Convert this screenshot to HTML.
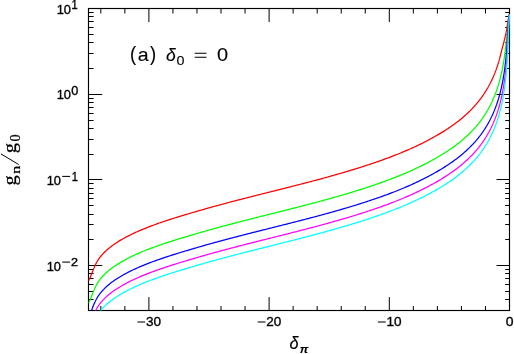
<!DOCTYPE html>
<html><head><meta charset="utf-8"><style>html,body{margin:0;padding:0;background:#fff}svg{display:block}</style></head><body>
<svg width="514" height="354" viewBox="0 0 514 354" style="will-change:transform">
<rect width="514" height="354" fill="#fff"/>
<defs><clipPath id="c"><rect x="88.5" y="8.5" width="421.6" height="302.0"/></clipPath></defs>
<path d="M100.82,310.5v-4.5M100.82,8.5v5.0M124.86,310.5v-4.5M124.86,8.5v5.0M148.9,310.5v-13.4M148.9,8.5v13.6M172.94,310.5v-4.5M172.94,8.5v5.0M196.98,310.5v-4.5M196.98,8.5v5.0M221.02,310.5v-4.5M221.02,8.5v5.0M245.06,310.5v-4.5M245.06,8.5v5.0M269.1,310.5v-13.4M269.1,8.5v13.6M293.14,310.5v-4.5M293.14,8.5v5.0M317.18,310.5v-4.5M317.18,8.5v5.0M341.22,310.5v-4.5M341.22,8.5v5.0M365.26,310.5v-4.5M365.26,8.5v5.0M389.3,310.5v-13.4M389.3,8.5v13.6M413.34,310.5v-4.5M413.34,8.5v5.0M437.38,310.5v-4.5M437.38,8.5v5.0M461.42,310.5v-4.5M461.42,8.5v5.0M485.46,310.5v-4.5M485.46,8.5v5.0M88.5,299.5h5.1M509.5,299.5h-4.3M88.5,291.5h5.1M509.5,291.5h-4.3M88.5,284.5h5.1M509.5,284.5h-4.3M88.5,278.5h5.1M509.5,278.5h-4.3M88.5,273.5h5.1M509.5,273.5h-4.3M88.5,269.5h5.1M509.5,269.5h-4.3M88.5,265.5h13.7M509.5,265.5h-13.0M88.5,239.5h5.1M509.5,239.5h-4.3M88.5,224.5h5.1M509.5,224.5h-4.3M88.5,214.5h5.1M509.5,214.5h-4.3M88.5,205.5h5.1M509.5,205.5h-4.3M88.5,198.5h5.1M509.5,198.5h-4.3M88.5,193.5h5.1M509.5,193.5h-4.3M88.5,188.5h5.1M509.5,188.5h-4.3M88.5,183.5h5.1M509.5,183.5h-4.3M88.5,179.5h13.7M509.5,179.5h-13.0M88.5,154.5h5.1M509.5,154.5h-4.3M88.5,139.5h5.1M509.5,139.5h-4.3M88.5,128.5h5.1M509.5,128.5h-4.3M88.5,120.5h5.1M509.5,120.5h-4.3M88.5,113.5h5.1M509.5,113.5h-4.3M88.5,107.5h5.1M509.5,107.5h-4.3M88.5,102.5h5.1M509.5,102.5h-4.3M88.5,98.5h5.1M509.5,98.5h-4.3M88.5,94.5h13.7M509.5,94.5h-13.0M88.5,68.5h5.1M509.5,68.5h-4.3M88.5,53.5h5.1M509.5,53.5h-4.3M88.5,42.5h5.1M509.5,42.5h-4.3M88.5,34.5h5.1M509.5,34.5h-4.3M88.5,27.5h5.1M509.5,27.5h-4.3M88.5,21.5h5.1M509.5,21.5h-4.3M88.5,16.5h5.1M509.5,16.5h-4.3M88.5,12.5h5.1M509.5,12.5h-4.3" stroke="#000" stroke-width="1" fill="none"/>
<rect x="88.5" y="8.5" width="421.0" height="302.0" fill="none" stroke="#000" stroke-width="1.15"/>
<g clip-path="url(#c)" fill="none" stroke-width="1.25" stroke-linejoin="round">
<path d="M88.00,280.46 L88.06,280.45 L88.12,280.44 L88.18,280.44 L88.24,280.43 L88.30,280.43 L88.36,280.42 L88.42,280.42 L88.48,280.41 L88.54,280.41 L88.60,280.41 L88.66,280.40 L88.72,280.32 L88.78,280.23 L88.84,280.14 L88.90,280.04 L88.96,279.94 L89.03,279.84 L89.09,279.74 L89.15,279.63 L89.21,279.52 L89.27,279.41 L89.33,279.29 L89.39,279.18 L89.45,279.06 L89.51,278.94 L89.57,278.81 L89.63,278.69 L89.69,278.56 L89.75,278.43 L89.81,278.30 L89.87,278.17 L89.93,278.04 L89.99,277.90 L90.05,277.76 L90.11,277.63 L90.17,277.49 L90.23,277.35 L90.29,277.20 L90.35,277.06 L90.41,276.92 L90.47,276.77 L90.53,276.62 L90.59,276.48 L90.65,276.33 L90.71,276.18 L90.77,276.03 L90.83,275.88 L90.89,275.73 L90.95,275.58 L91.02,275.42 L91.08,275.27 L91.14,275.12 L91.20,274.96 L91.26,274.81 L91.32,274.66 L91.38,274.50 L91.44,274.35 L91.50,274.19 L91.56,274.03 L91.62,273.88 L91.68,273.72 L91.74,273.57 L91.80,273.41 L91.86,273.25 L91.92,273.10 L91.98,272.94 L92.04,272.79 L92.10,272.63 L92.16,272.47 L92.22,272.32 L92.28,272.16 L92.34,272.01 L92.40,271.85 L92.46,271.70 L92.52,271.54 L92.58,271.39 L92.64,271.23 L92.70,271.08 L92.76,270.93 L92.82,270.77 L92.88,270.62 L92.94,270.47 L93.01,270.32 L93.07,270.17 L93.13,270.02 L93.19,269.86 L93.25,269.71 L93.31,269.57 L93.37,269.42 L93.43,269.27 L93.49,269.12 L93.55,268.97 L93.61,268.83 L93.67,268.68 L93.73,268.53 L93.79,268.39 L93.85,268.24 L93.91,268.10 L93.97,267.96 L94.03,267.82 L94.09,267.67 L94.15,267.53 L94.21,267.39 L94.27,267.25 L94.33,267.11 L94.39,266.97 L94.45,266.84 L94.51,266.70 L94.57,266.56 L94.63,266.43 L94.69,266.29 L94.75,266.16 L94.81,266.02 L94.87,265.89 L94.93,265.76 L94.99,265.63 L95.06,265.49 L95.12,265.36 L95.18,265.24 L95.24,265.11 L95.30,264.98 L95.36,264.85 L95.42,264.73 L95.48,264.60 L95.54,264.48 L95.60,264.36 L95.66,264.23 L95.72,264.11 L95.78,263.99 L95.84,263.87 L95.90,263.75 L95.96,263.63 L96.02,263.52 L96.08,263.40 L96.14,263.28 L96.20,263.17 L96.26,263.06 L96.32,262.94 L96.38,262.83 L96.44,262.72 L96.50,262.61 L96.56,262.50 L96.62,262.39 L96.68,262.28 L96.74,262.17 L96.80,262.07 L96.86,261.96 L96.92,261.86 L96.98,261.75 L97.05,261.65 L97.11,261.54 L97.17,261.44 L97.23,261.34 L97.29,261.24 L97.35,261.14 L97.41,261.04 L97.47,260.94 L97.53,260.84 L97.59,260.74 L97.65,260.65 L97.71,260.55 L97.77,260.45 L97.83,260.36 L97.89,260.26 L97.95,260.17 L98.01,260.08 L98.07,259.98 L98.13,259.89 L98.19,259.80 L98.25,259.71 L98.31,259.62 L98.37,259.52 L98.43,259.43 L98.49,259.35 L98.55,259.26 L98.61,259.17 L98.67,259.08 L98.73,258.99 L98.79,258.91 L98.85,258.82 L98.91,258.73 L98.97,258.65 L99.04,258.56 L99.10,258.48 L99.16,258.40 L99.22,258.31 L99.28,258.23 L99.34,258.15 L99.40,258.06 L99.46,257.98 L99.52,257.90 L99.58,257.82 L99.64,257.74 L99.70,257.66 L99.76,257.58 L99.82,257.50 L99.88,257.42 L99.94,257.34 L100.00,257.26 L101.24,255.74 L102.47,254.33 L103.71,253.02 L104.95,251.77 L106.19,250.59 L107.42,249.47 L108.66,248.41 L109.90,247.41 L111.14,246.45 L112.37,245.53 L113.61,244.65 L114.85,243.80 L116.09,242.98 L117.32,242.18 L118.56,241.40 L119.80,240.65 L121.04,239.91 L122.27,239.19 L123.51,238.49 L124.75,237.81 L125.99,237.14 L127.22,236.48 L128.46,235.84 L129.70,235.22 L130.94,234.60 L132.17,234.00 L133.41,233.41 L134.65,232.83 L135.89,232.26 L137.12,231.71 L138.36,231.16 L139.60,230.63 L140.84,230.10 L142.07,229.59 L143.31,229.08 L144.55,228.57 L145.79,228.08 L147.02,227.59 L148.26,227.10 L149.50,226.62 L150.74,226.15 L151.97,225.68 L153.21,225.22 L154.45,224.77 L155.69,224.32 L156.92,223.88 L158.16,223.44 L159.40,223.01 L160.64,222.58 L161.87,222.16 L163.11,221.74 L164.35,221.32 L165.59,220.91 L166.82,220.50 L168.06,220.10 L169.30,219.70 L170.54,219.30 L171.77,218.91 L173.01,218.52 L174.25,218.13 L175.48,217.74 L176.72,217.36 L177.96,216.97 L179.20,216.59 L180.43,216.21 L181.67,215.84 L182.91,215.46 L184.15,215.09 L185.38,214.72 L186.62,214.35 L187.86,213.98 L189.10,213.61 L190.33,213.25 L191.57,212.88 L192.81,212.51 L194.05,212.15 L195.28,211.79 L196.52,211.43 L197.76,211.06 L199.00,210.70 L200.23,210.35 L201.47,209.99 L202.71,209.63 L203.95,209.28 L205.18,208.92 L206.42,208.57 L207.66,208.22 L208.90,207.87 L210.13,207.53 L211.37,207.18 L212.61,206.84 L213.85,206.50 L215.08,206.16 L216.32,205.83 L217.56,205.49 L218.80,205.15 L220.03,204.82 L221.27,204.48 L222.51,204.15 L223.75,203.82 L224.98,203.49 L226.22,203.16 L227.46,202.83 L228.70,202.50 L229.93,202.17 L231.17,201.85 L232.41,201.52 L233.65,201.19 L234.88,200.87 L236.12,200.55 L237.36,200.23 L238.60,199.91 L239.83,199.59 L241.07,199.27 L242.31,198.95 L243.55,198.63 L244.78,198.32 L246.02,198.00 L247.26,197.68 L248.49,197.37 L249.73,197.06 L250.97,196.74 L252.21,196.43 L253.44,196.11 L254.68,195.80 L255.92,195.49 L257.16,195.18 L258.39,194.87 L259.63,194.55 L260.87,194.24 L262.11,193.93 L263.34,193.62 L264.58,193.31 L265.82,193.00 L267.06,192.69 L268.29,192.38 L269.53,192.07 L270.77,191.76 L272.01,191.45 L273.24,191.14 L274.48,190.83 L275.72,190.52 L276.96,190.21 L278.19,189.90 L279.43,189.59 L280.67,189.27 L281.91,188.96 L283.14,188.65 L284.38,188.34 L285.62,188.03 L286.86,187.72 L288.09,187.40 L289.33,187.09 L290.57,186.78 L291.81,186.46 L293.04,186.15 L294.28,185.83 L295.52,185.51 L296.76,185.20 L297.99,184.88 L299.23,184.56 L300.47,184.24 L301.71,183.92 L302.94,183.60 L304.18,183.28 L305.42,182.96 L306.66,182.64 L307.89,182.32 L309.13,181.99 L310.37,181.67 L311.61,181.34 L312.84,181.01 L314.08,180.69 L315.32,180.36 L316.56,180.03 L317.79,179.69 L319.03,179.36 L320.27,179.03 L321.51,178.69 L322.74,178.36 L323.98,178.02 L325.22,177.68 L326.45,177.34 L327.69,177.00 L328.93,176.66 L330.17,176.31 L331.40,175.97 L332.64,175.62 L333.88,175.27 L335.12,174.92 L336.35,174.57 L337.59,174.21 L338.83,173.86 L340.07,173.50 L341.30,173.14 L342.54,172.78 L343.78,172.42 L345.02,172.05 L346.25,171.69 L347.49,171.32 L348.73,170.95 L349.97,170.58 L351.20,170.20 L352.44,169.83 L353.68,169.45 L354.92,169.07 L356.15,168.68 L357.39,168.30 L358.63,167.91 L359.87,167.52 L361.10,167.13 L362.34,166.73 L363.58,166.34 L364.82,165.94 L366.05,165.53 L367.29,165.13 L368.53,164.72 L369.77,164.31 L371.00,163.90 L372.24,163.48 L373.48,163.07 L374.72,162.64 L375.95,162.22 L377.19,161.79 L378.43,161.36 L379.67,160.93 L380.90,160.49 L382.14,160.05 L383.38,159.61 L384.62,159.16 L385.85,158.71 L387.09,158.26 L388.33,157.80 L389.57,157.33 L390.80,156.86 L392.04,156.39 L393.28,155.92 L394.52,155.44 L395.75,154.95 L396.99,154.46 L398.23,153.96 L399.46,153.46 L400.70,152.96 L401.94,152.44 L403.18,151.93 L404.41,151.41 L405.65,150.88 L406.89,150.35 L408.13,149.81 L409.36,149.26 L410.60,148.71 L411.84,148.15 L413.08,147.59 L414.31,147.02 L415.55,146.45 L416.79,145.86 L418.03,145.28 L419.26,144.68 L420.50,144.08 L421.74,143.47 L422.98,142.85 L424.21,142.23 L425.45,141.60 L426.69,140.96 L427.93,140.31 L429.16,139.66 L430.40,138.99 L431.64,138.32 L432.88,137.64 L434.11,136.96 L435.35,136.26 L436.59,135.55 L437.83,134.84 L439.06,134.11 L440.30,133.38 L441.54,132.63 L442.78,131.87 L444.01,131.10 L445.25,130.32 L446.49,129.52 L447.73,128.71 L448.96,127.89 L450.20,127.05 L451.44,126.19 L452.68,125.32 L453.91,124.43 L455.15,123.53 L456.39,122.60 L457.63,121.66 L458.86,120.69 L460.10,119.70 L461.34,118.69 L462.58,117.65 L463.81,116.59 L465.05,115.50 L466.29,114.38 L467.53,113.23 L468.76,112.06 L470.00,110.84 L470.11,110.74 L470.21,110.63 L470.32,110.53 L470.42,110.42 L470.53,110.32 L470.63,110.21 L470.74,110.11 L470.84,110.00 L470.95,109.89 L471.05,109.79 L471.16,109.68 L471.26,109.57 L471.37,109.46 L471.47,109.36 L471.58,109.25 L471.68,109.14 L471.79,109.03 L471.89,108.92 L472.00,108.81 L472.11,108.70 L472.21,108.59 L472.32,108.48 L472.42,108.37 L472.53,108.26 L472.63,108.15 L472.74,108.04 L472.84,107.92 L472.95,107.81 L473.05,107.70 L473.16,107.59 L473.26,107.47 L473.37,107.36 L473.47,107.25 L473.58,107.13 L473.68,107.02 L473.79,106.91 L473.89,106.79 L474.00,106.68 L474.11,106.56 L474.21,106.44 L474.32,106.33 L474.42,106.21 L474.53,106.10 L474.63,105.98 L474.74,105.86 L474.84,105.74 L474.95,105.63 L475.05,105.51 L475.16,105.39 L475.26,105.27 L475.37,105.15 L475.47,105.03 L475.58,104.91 L475.68,104.79 L475.79,104.67 L475.89,104.55 L476.00,104.43 L476.11,104.30 L476.21,104.18 L476.32,104.06 L476.42,103.93 L476.53,103.81 L476.63,103.69 L476.74,103.56 L476.84,103.44 L476.95,103.31 L477.05,103.18 L477.16,103.06 L477.26,102.93 L477.37,102.80 L477.47,102.68 L477.58,102.55 L477.68,102.42 L477.79,102.29 L477.89,102.16 L478.00,102.03 L478.10,101.90 L478.21,101.77 L478.32,101.64 L478.42,101.51 L478.53,101.38 L478.63,101.24 L478.74,101.11 L478.84,100.98 L478.95,100.84 L479.05,100.71 L479.16,100.58 L479.26,100.44 L479.37,100.30 L479.47,100.17 L479.58,100.03 L479.68,99.90 L479.79,99.76 L479.89,99.62 L480.00,99.48 L480.10,99.34 L480.21,99.20 L480.32,99.06 L480.42,98.92 L480.53,98.78 L480.63,98.64 L480.74,98.50 L480.84,98.36 L480.95,98.21 L481.05,98.07 L481.16,97.93 L481.26,97.78 L481.37,97.64 L481.47,97.49 L481.58,97.35 L481.68,97.20 L481.79,97.05 L481.89,96.91 L482.00,96.76 L482.10,96.61 L482.21,96.46 L482.32,96.31 L482.42,96.16 L482.53,96.01 L482.63,95.86 L482.74,95.71 L482.84,95.56 L482.95,95.40 L483.05,95.25 L483.16,95.10 L483.26,94.94 L483.37,94.79 L483.47,94.63 L483.58,94.48 L483.68,94.32 L483.79,94.16 L483.89,94.00 L484.00,93.85 L484.10,93.69 L484.21,93.53 L484.32,93.37 L484.42,93.21 L484.53,93.04 L484.63,92.88 L484.74,92.72 L484.84,92.56 L484.95,92.39 L485.05,92.23 L485.16,92.06 L485.26,91.90 L485.37,91.73 L485.47,91.56 L485.58,91.39 L485.68,91.23 L485.79,91.06 L485.89,90.89 L486.00,90.72 L486.10,90.54 L486.21,90.37 L486.32,90.20 L486.42,90.03 L486.53,89.85 L486.63,89.68 L486.74,89.50 L486.84,89.32 L486.95,89.15 L487.05,88.97 L487.16,88.79 L487.26,88.61 L487.37,88.43 L487.47,88.25 L487.58,88.07 L487.68,87.88 L487.79,87.70 L487.89,87.52 L488.00,87.33 L488.10,87.14 L488.21,86.96 L488.32,86.77 L488.42,86.58 L488.53,86.39 L488.63,86.20 L488.74,86.00 L488.84,85.81 L488.95,85.62 L489.05,85.42 L489.16,85.22 L489.26,85.03 L489.37,84.83 L489.47,84.63 L489.58,84.43 L489.68,84.23 L489.79,84.03 L489.89,83.82 L490.00,83.62 L490.10,83.41 L490.21,83.21 L490.32,83.00 L490.42,82.79 L490.53,82.58 L490.63,82.37 L490.74,82.16 L490.84,81.95 L490.95,81.73 L491.05,81.52 L491.16,81.30 L491.26,81.09 L491.37,80.87 L491.47,80.65 L491.58,80.43 L491.68,80.21 L491.79,79.98 L491.89,79.76 L492.00,79.53 L492.10,79.31 L492.21,79.08 L492.31,78.85 L492.42,78.62 L492.53,78.39 L492.63,78.15 L492.74,77.92 L492.84,77.68 L492.95,77.44 L493.05,77.21 L493.16,76.97 L493.26,76.73 L493.37,76.48 L493.47,76.24 L493.58,75.99 L493.68,75.75 L493.79,75.50 L493.89,75.25 L494.00,75.00 L494.10,74.74 L494.21,74.49 L494.31,74.23 L494.42,73.97 L494.53,73.71 L494.63,73.45 L494.74,73.19 L494.84,72.93 L494.95,72.66 L495.05,72.39 L495.16,72.12 L495.26,71.85 L495.37,71.58 L495.47,71.30 L495.58,71.03 L495.68,70.75 L495.79,70.47 L495.89,70.18 L496.00,69.90 L496.10,69.61 L496.21,69.32 L496.31,69.03 L496.42,68.74 L496.53,68.44 L496.63,68.15 L496.74,67.85 L496.84,67.54 L496.95,67.24 L497.05,66.93 L497.16,66.62 L497.26,66.31 L497.37,65.99 L497.47,65.67 L497.58,65.35 L497.68,65.03 L497.79,64.70 L497.89,64.37 L498.00,64.04 L498.10,63.71 L498.21,63.37 L498.31,63.03 L498.42,62.68 L498.53,62.33 L498.63,61.98 L498.74,61.63 L498.84,61.27 L498.95,60.91 L499.05,60.55 L499.16,60.18 L499.26,59.81 L499.37,59.43 L499.47,59.05 L499.58,58.67 L499.68,58.28 L499.79,57.89 L499.89,57.49 L500.00,57.10 L500.10,56.69 L500.21,56.28 L500.31,55.87 L500.42,55.45 L500.53,55.03 L500.63,54.60 L500.74,54.17 L500.84,53.73 L500.95,53.29 L501.05,52.85 L501.16,52.39 L501.26,51.93 L501.37,51.47 L501.47,51.00 L501.75,50.06 L502.01,49.13 L502.28,48.19 L502.54,47.26 L502.79,46.32 L503.04,45.38 L503.29,44.45 L503.53,43.51 L503.77,42.58 L504.01,41.64 L504.24,40.71 L504.47,39.77 L504.69,38.83 L504.91,37.90 L505.13,36.96 L505.34,36.03 L505.56,35.09 L505.76,34.15 L505.97,33.22 L506.16,32.28 L506.35,31.35 L506.53,30.41 L506.69,29.47 L506.84,28.54 L506.98,27.60 L507.11,26.67 L507.24,25.73 L507.37,24.79 L507.51,23.86 L507.65,22.92 L507.80,21.99 L507.97,21.05 L508.14,20.12 L508.32,19.18 L508.50,18.24 L508.69,17.31 L508.89,16.37 L509.09,15.44 L509.30,14.50" stroke="#ff0000"/>
<path d="M88.00,302.66 L88.06,302.65 L88.12,302.64 L88.18,302.64 L88.24,302.63 L88.30,302.63 L88.36,302.62 L88.42,302.62 L88.48,302.61 L88.54,302.61 L88.60,302.61 L88.66,302.60 L88.72,302.52 L88.78,302.43 L88.84,302.34 L88.90,302.24 L88.96,302.14 L89.03,302.04 L89.09,301.94 L89.15,301.83 L89.21,301.72 L89.27,301.61 L89.33,301.49 L89.39,301.38 L89.45,301.26 L89.51,301.14 L89.57,301.01 L89.63,300.89 L89.69,300.76 L89.75,300.63 L89.81,300.50 L89.87,300.37 L89.93,300.24 L89.99,300.10 L90.05,299.96 L90.11,299.83 L90.17,299.69 L90.23,299.55 L90.29,299.40 L90.35,299.26 L90.41,299.12 L90.47,298.97 L90.53,298.82 L90.59,298.68 L90.65,298.53 L90.71,298.38 L90.77,298.23 L90.83,298.08 L90.89,297.93 L90.95,297.78 L91.02,297.62 L91.08,297.47 L91.14,297.32 L91.20,297.16 L91.26,297.01 L91.32,296.86 L91.38,296.70 L91.44,296.55 L91.50,296.39 L91.56,296.23 L91.62,296.08 L91.68,295.92 L91.74,295.77 L91.80,295.61 L91.86,295.45 L91.92,295.30 L91.98,295.14 L92.04,294.99 L92.10,294.83 L92.16,294.67 L92.22,294.52 L92.28,294.36 L92.34,294.21 L92.40,294.05 L92.46,293.90 L92.52,293.74 L92.58,293.59 L92.64,293.43 L92.70,293.28 L92.76,293.13 L92.82,292.97 L92.88,292.82 L92.94,292.67 L93.01,292.52 L93.07,292.37 L93.13,292.22 L93.19,292.06 L93.25,291.91 L93.31,291.77 L93.37,291.62 L93.43,291.47 L93.49,291.32 L93.55,291.17 L93.61,291.03 L93.67,290.88 L93.73,290.73 L93.79,290.59 L93.85,290.44 L93.91,290.30 L93.97,290.16 L94.03,290.02 L94.09,289.87 L94.15,289.73 L94.21,289.59 L94.27,289.45 L94.33,289.31 L94.39,289.17 L94.45,289.04 L94.51,288.90 L94.57,288.76 L94.63,288.63 L94.69,288.49 L94.75,288.36 L94.81,288.22 L94.87,288.09 L94.93,287.96 L94.99,287.83 L95.06,287.69 L95.12,287.56 L95.18,287.44 L95.24,287.31 L95.30,287.18 L95.36,287.05 L95.42,286.93 L95.48,286.80 L95.54,286.68 L95.60,286.56 L95.66,286.43 L95.72,286.31 L95.78,286.19 L95.84,286.07 L95.90,285.95 L95.96,285.83 L96.02,285.72 L96.08,285.60 L96.14,285.48 L96.20,285.37 L96.26,285.26 L96.32,285.14 L96.38,285.03 L96.44,284.92 L96.50,284.81 L96.56,284.70 L96.62,284.59 L96.68,284.48 L96.74,284.37 L96.80,284.27 L96.86,284.16 L96.92,284.06 L96.98,283.95 L97.05,283.85 L97.11,283.74 L97.17,283.64 L97.23,283.54 L97.29,283.44 L97.35,283.34 L97.41,283.24 L97.47,283.14 L97.53,283.04 L97.59,282.94 L97.65,282.85 L97.71,282.75 L97.77,282.65 L97.83,282.56 L97.89,282.46 L97.95,282.37 L98.01,282.28 L98.07,282.18 L98.13,282.09 L98.19,282.00 L98.25,281.91 L98.31,281.82 L98.37,281.72 L98.43,281.63 L98.49,281.55 L98.55,281.46 L98.61,281.37 L98.67,281.28 L98.73,281.19 L98.79,281.11 L98.85,281.02 L98.91,280.93 L98.97,280.85 L99.04,280.76 L99.10,280.68 L99.16,280.60 L99.22,280.51 L99.28,280.43 L99.34,280.35 L99.40,280.26 L99.46,280.18 L99.52,280.10 L99.58,280.02 L99.64,279.94 L99.70,279.86 L99.76,279.78 L99.82,279.70 L99.88,279.62 L99.94,279.54 L100.00,279.46 L101.24,277.94 L102.47,276.53 L103.71,275.22 L104.95,273.97 L106.19,272.79 L107.42,271.67 L108.66,270.61 L109.90,269.61 L111.14,268.65 L112.37,267.73 L113.61,266.85 L114.85,266.00 L116.09,265.18 L117.32,264.38 L118.56,263.60 L119.80,262.85 L121.04,262.11 L122.27,261.39 L123.51,260.69 L124.75,260.01 L125.99,259.34 L127.22,258.68 L128.46,258.04 L129.70,257.42 L130.94,256.80 L132.17,256.20 L133.41,255.61 L134.65,255.03 L135.89,254.46 L137.12,253.91 L138.36,253.36 L139.60,252.83 L140.84,252.30 L142.07,251.79 L143.31,251.28 L144.55,250.77 L145.79,250.28 L147.02,249.79 L148.26,249.30 L149.50,248.82 L150.74,248.35 L151.97,247.88 L153.21,247.42 L154.45,246.97 L155.69,246.52 L156.92,246.08 L158.16,245.64 L159.40,245.21 L160.64,244.78 L161.87,244.36 L163.11,243.94 L164.35,243.52 L165.59,243.11 L166.82,242.70 L168.06,242.30 L169.30,241.90 L170.54,241.50 L171.77,241.11 L173.01,240.72 L174.25,240.33 L175.48,239.94 L176.72,239.56 L177.96,239.17 L179.20,238.79 L180.43,238.41 L181.67,238.04 L182.91,237.66 L184.15,237.29 L185.38,236.92 L186.62,236.55 L187.86,236.18 L189.10,235.81 L190.33,235.45 L191.57,235.08 L192.81,234.71 L194.05,234.35 L195.28,233.99 L196.52,233.63 L197.76,233.26 L199.00,232.90 L200.23,232.55 L201.47,232.19 L202.71,231.83 L203.95,231.48 L205.18,231.12 L206.42,230.77 L207.66,230.42 L208.90,230.07 L210.13,229.73 L211.37,229.38 L212.61,229.04 L213.85,228.70 L215.08,228.36 L216.32,228.03 L217.56,227.69 L218.80,227.35 L220.03,227.02 L221.27,226.68 L222.51,226.35 L223.75,226.02 L224.98,225.69 L226.22,225.36 L227.46,225.03 L228.70,224.70 L229.93,224.37 L231.17,224.05 L232.41,223.72 L233.65,223.39 L234.88,223.07 L236.12,222.75 L237.36,222.43 L238.60,222.11 L239.83,221.79 L241.07,221.47 L242.31,221.15 L243.55,220.83 L244.78,220.52 L246.02,220.20 L247.26,219.88 L248.49,219.57 L249.73,219.26 L250.97,218.94 L252.21,218.63 L253.44,218.31 L254.68,218.00 L255.92,217.69 L257.16,217.38 L258.39,217.07 L259.63,216.75 L260.87,216.44 L262.11,216.13 L263.34,215.82 L264.58,215.51 L265.82,215.20 L267.06,214.89 L268.29,214.58 L269.53,214.27 L270.77,213.96 L272.01,213.65 L273.24,213.34 L274.48,213.03 L275.72,212.72 L276.96,212.41 L278.19,212.10 L279.43,211.79 L280.67,211.47 L281.91,211.16 L283.14,210.85 L284.38,210.54 L285.62,210.23 L286.86,209.92 L288.09,209.60 L289.33,209.29 L290.57,208.98 L291.81,208.66 L293.04,208.35 L294.28,208.03 L295.52,207.71 L296.76,207.40 L297.99,207.08 L299.23,206.76 L300.47,206.44 L301.71,206.12 L302.94,205.80 L304.18,205.48 L305.42,205.16 L306.66,204.84 L307.89,204.52 L309.13,204.19 L310.37,203.87 L311.61,203.54 L312.84,203.21 L314.08,202.89 L315.32,202.56 L316.56,202.23 L317.79,201.89 L319.03,201.56 L320.27,201.23 L321.51,200.89 L322.74,200.56 L323.98,200.22 L325.22,199.88 L326.45,199.54 L327.69,199.20 L328.93,198.86 L330.17,198.51 L331.40,198.17 L332.64,197.82 L333.88,197.47 L335.12,197.12 L336.35,196.77 L337.59,196.41 L338.83,196.06 L340.07,195.70 L341.30,195.34 L342.54,194.98 L343.78,194.62 L345.02,194.25 L346.25,193.89 L347.49,193.52 L348.73,193.15 L349.97,192.78 L351.20,192.40 L352.44,192.03 L353.68,191.65 L354.92,191.27 L356.15,190.88 L357.39,190.50 L358.63,190.11 L359.87,189.72 L361.10,189.33 L362.34,188.93 L363.58,188.54 L364.82,188.14 L366.05,187.73 L367.29,187.33 L368.53,186.92 L369.77,186.51 L371.00,186.10 L372.24,185.68 L373.48,185.27 L374.72,184.84 L375.95,184.42 L377.19,183.99 L378.43,183.56 L379.67,183.13 L380.90,182.69 L382.14,182.25 L383.38,181.81 L384.62,181.36 L385.85,180.91 L387.09,180.46 L388.33,180.00 L389.57,179.53 L390.80,179.06 L392.04,178.59 L393.28,178.12 L394.52,177.64 L395.75,177.15 L396.99,176.66 L398.23,176.16 L399.46,175.66 L400.70,175.16 L401.94,174.64 L403.18,174.13 L404.41,173.61 L405.65,173.08 L406.89,172.55 L408.13,172.01 L409.36,171.46 L410.60,170.91 L411.84,170.35 L413.08,169.79 L414.31,169.22 L415.55,168.65 L416.79,168.06 L418.03,167.48 L419.26,166.88 L420.50,166.28 L421.74,165.67 L422.98,165.05 L424.21,164.43 L425.45,163.80 L426.69,163.16 L427.93,162.51 L429.16,161.86 L430.40,161.19 L431.64,160.52 L432.88,159.84 L434.11,159.16 L435.35,158.46 L436.59,157.75 L437.83,157.04 L439.06,156.31 L440.30,155.58 L441.54,154.83 L442.78,154.07 L444.01,153.30 L445.25,152.52 L446.49,151.72 L447.73,150.91 L448.96,150.09 L450.20,149.25 L451.44,148.39 L452.68,147.52 L453.91,146.63 L455.15,145.73 L456.39,144.80 L457.63,143.86 L458.86,142.89 L460.10,141.90 L461.34,140.89 L462.58,139.85 L463.81,138.79 L465.05,137.70 L466.29,136.58 L467.53,135.43 L468.76,134.26 L470.00,133.04 L470.12,132.93 L470.24,132.81 L470.35,132.69 L470.47,132.57 L470.59,132.46 L470.71,132.34 L470.82,132.22 L470.94,132.10 L471.06,131.98 L471.18,131.86 L471.29,131.74 L471.41,131.62 L471.53,131.50 L471.65,131.38 L471.77,131.25 L471.88,131.13 L472.00,131.01 L472.12,130.89 L472.24,130.76 L472.35,130.64 L472.47,130.52 L472.59,130.39 L472.71,130.27 L472.82,130.14 L472.94,130.02 L473.06,129.89 L473.18,129.77 L473.30,129.64 L473.41,129.51 L473.53,129.39 L473.65,129.26 L473.77,129.13 L473.88,129.00 L474.00,128.87 L474.12,128.74 L474.24,128.62 L474.35,128.49 L474.47,128.36 L474.59,128.22 L474.71,128.09 L474.83,127.96 L474.94,127.83 L475.06,127.70 L475.18,127.57 L475.30,127.43 L475.41,127.30 L475.53,127.16 L475.65,127.03 L475.77,126.89 L475.88,126.76 L476.00,126.62 L476.12,126.49 L476.24,126.35 L476.36,126.21 L476.47,126.07 L476.59,125.93 L476.71,125.79 L476.83,125.65 L476.94,125.51 L477.06,125.37 L477.18,125.23 L477.30,125.09 L477.41,124.95 L477.53,124.80 L477.65,124.66 L477.77,124.52 L477.89,124.37 L478.00,124.23 L478.12,124.08 L478.24,123.94 L478.36,123.79 L478.47,123.64 L478.59,123.49 L478.71,123.35 L478.83,123.20 L478.94,123.05 L479.06,122.90 L479.18,122.75 L479.30,122.60 L479.42,122.44 L479.53,122.29 L479.65,122.14 L479.77,121.98 L479.89,121.83 L480.00,121.68 L480.12,121.52 L480.24,121.36 L480.36,121.21 L480.48,121.05 L480.59,120.89 L480.71,120.73 L480.83,120.58 L480.95,120.42 L481.06,120.26 L481.18,120.10 L481.30,119.93 L481.42,119.77 L481.53,119.61 L481.65,119.45 L481.77,119.28 L481.89,119.12 L482.01,118.95 L482.12,118.79 L482.24,118.62 L482.36,118.45 L482.48,118.28 L482.59,118.11 L482.71,117.95 L482.83,117.78 L482.95,117.60 L483.06,117.43 L483.18,117.26 L483.30,117.09 L483.42,116.91 L483.54,116.74 L483.65,116.57 L483.77,116.39 L483.89,116.21 L484.01,116.04 L484.12,115.86 L484.24,115.68 L484.36,115.50 L484.48,115.32 L484.59,115.14 L484.71,114.96 L484.83,114.77 L484.95,114.59 L485.07,114.41 L485.18,114.22 L485.30,114.04 L485.42,113.85 L485.54,113.66 L485.65,113.47 L485.77,113.28 L485.89,113.09 L486.01,112.90 L486.12,112.71 L486.24,112.52 L486.36,112.33 L486.48,112.13 L486.60,111.94 L486.71,111.74 L486.83,111.54 L486.95,111.34 L487.07,111.15 L487.18,110.95 L487.30,110.74 L487.42,110.54 L487.54,110.34 L487.65,110.14 L487.77,109.93 L487.89,109.72 L488.01,109.52 L488.13,109.31 L488.24,109.10 L488.36,108.88 L488.48,108.67 L488.60,108.46 L488.71,108.24 L488.83,108.03 L488.95,107.81 L489.07,107.59 L489.18,107.37 L489.30,107.15 L489.42,106.93 L489.54,106.71 L489.66,106.48 L489.77,106.26 L489.89,106.03 L490.01,105.80 L490.13,105.57 L490.24,105.34 L490.36,105.11 L490.48,104.88 L490.60,104.64 L490.71,104.40 L490.83,104.17 L490.95,103.93 L491.07,103.69 L491.19,103.45 L491.30,103.20 L491.42,102.96 L491.54,102.71 L491.66,102.46 L491.77,102.21 L491.89,101.96 L492.01,101.71 L492.13,101.46 L492.24,101.20 L492.36,100.94 L492.48,100.69 L492.60,100.43 L492.72,100.16 L492.83,99.90 L492.95,99.64 L493.07,99.37 L493.19,99.10 L493.30,98.83 L493.42,98.56 L493.54,98.28 L493.66,98.01 L493.77,97.73 L493.89,97.45 L494.01,97.17 L494.13,96.89 L494.25,96.60 L494.36,96.31 L494.48,96.02 L494.60,95.73 L494.72,95.44 L494.83,95.14 L494.95,94.85 L495.07,94.55 L495.19,94.24 L495.30,93.94 L495.42,93.63 L495.54,93.33 L495.66,93.01 L495.78,92.70 L495.89,92.39 L496.01,92.07 L496.13,91.75 L496.25,91.42 L496.36,91.10 L496.48,90.77 L496.60,90.43 L496.72,90.10 L496.83,89.76 L496.95,89.42 L497.07,89.08 L497.19,88.73 L497.31,88.38 L497.42,88.02 L497.54,87.67 L497.66,87.30 L497.78,86.94 L497.89,86.57 L498.01,86.20 L498.13,85.82 L498.25,85.45 L498.36,85.06 L498.48,84.68 L498.60,84.28 L498.72,83.89 L498.84,83.49 L498.95,83.09 L499.07,82.68 L499.19,82.27 L499.31,81.85 L499.42,81.43 L499.54,81.00 L499.66,80.57 L499.78,80.13 L499.89,79.69 L500.01,79.24 L500.13,78.79 L500.25,78.33 L500.37,77.87 L500.48,77.40 L500.60,76.92 L500.72,76.44 L500.84,75.95 L500.95,75.46 L501.07,74.96 L501.19,74.45 L501.31,73.93 L501.43,73.41 L501.54,72.88 L501.66,72.35 L501.78,71.80 L501.90,71.25 L502.01,70.69 L502.13,70.12 L502.25,69.54 L502.37,68.95 L502.48,68.35 L502.60,67.74 L502.72,67.12 L502.84,66.49 L502.96,65.86 L503.07,65.21 L503.19,64.54 L503.31,63.87 L503.43,63.18 L503.54,62.48 L503.66,61.77 L503.78,61.04 L503.90,60.30 L504.01,59.55 L504.13,58.78 L504.25,57.99 L504.37,57.18 L504.49,56.36 L504.60,55.52 L504.72,54.66 L504.84,53.78 L504.96,52.87 L505.07,51.95 L505.19,51.00 L505.30,50.06 L505.41,49.13 L505.52,48.19 L505.63,47.26 L505.74,46.32 L505.85,45.38 L505.95,44.45 L506.06,43.51 L506.17,42.58 L506.28,41.64 L506.38,40.71 L506.49,39.77 L506.60,38.83 L506.71,37.90 L506.81,36.96 L506.92,36.03 L507.03,35.09 L507.13,34.15 L507.24,33.22 L507.34,32.28 L507.45,31.35 L507.55,30.41 L507.66,29.47 L507.76,28.54 L507.87,27.60 L507.97,26.67 L508.07,25.73 L508.18,24.79 L508.28,23.86 L508.38,22.92 L508.49,21.99 L508.59,21.05 L508.69,20.12 L508.79,19.18 L508.90,18.24 L509.00,17.31 L509.10,16.37 L509.20,15.44 L509.30,14.50" stroke="#00ff00"/>
<path d="M88.00,316.76 L88.06,316.75 L88.12,316.74 L88.18,316.74 L88.24,316.73 L88.30,316.73 L88.36,316.72 L88.42,316.72 L88.48,316.71 L88.54,316.71 L88.60,316.71 L88.66,316.70 L88.72,316.62 L88.78,316.53 L88.84,316.44 L88.90,316.34 L88.96,316.24 L89.03,316.14 L89.09,316.04 L89.15,315.93 L89.21,315.82 L89.27,315.71 L89.33,315.59 L89.39,315.48 L89.45,315.36 L89.51,315.24 L89.57,315.11 L89.63,314.99 L89.69,314.86 L89.75,314.73 L89.81,314.60 L89.87,314.47 L89.93,314.34 L89.99,314.20 L90.05,314.06 L90.11,313.93 L90.17,313.79 L90.23,313.65 L90.29,313.50 L90.35,313.36 L90.41,313.22 L90.47,313.07 L90.53,312.92 L90.59,312.78 L90.65,312.63 L90.71,312.48 L90.77,312.33 L90.83,312.18 L90.89,312.03 L90.95,311.88 L91.02,311.72 L91.08,311.57 L91.14,311.42 L91.20,311.26 L91.26,311.11 L91.32,310.96 L91.38,310.80 L91.44,310.65 L91.50,310.49 L91.56,310.33 L91.62,310.18 L91.68,310.02 L91.74,309.87 L91.80,309.71 L91.86,309.55 L91.92,309.40 L91.98,309.24 L92.04,309.09 L92.10,308.93 L92.16,308.77 L92.22,308.62 L92.28,308.46 L92.34,308.31 L92.40,308.15 L92.46,308.00 L92.52,307.84 L92.58,307.69 L92.64,307.53 L92.70,307.38 L92.76,307.23 L92.82,307.07 L92.88,306.92 L92.94,306.77 L93.01,306.62 L93.07,306.47 L93.13,306.32 L93.19,306.16 L93.25,306.01 L93.31,305.87 L93.37,305.72 L93.43,305.57 L93.49,305.42 L93.55,305.27 L93.61,305.13 L93.67,304.98 L93.73,304.83 L93.79,304.69 L93.85,304.54 L93.91,304.40 L93.97,304.26 L94.03,304.12 L94.09,303.97 L94.15,303.83 L94.21,303.69 L94.27,303.55 L94.33,303.41 L94.39,303.27 L94.45,303.14 L94.51,303.00 L94.57,302.86 L94.63,302.73 L94.69,302.59 L94.75,302.46 L94.81,302.32 L94.87,302.19 L94.93,302.06 L94.99,301.93 L95.06,301.79 L95.12,301.66 L95.18,301.54 L95.24,301.41 L95.30,301.28 L95.36,301.15 L95.42,301.03 L95.48,300.90 L95.54,300.78 L95.60,300.66 L95.66,300.53 L95.72,300.41 L95.78,300.29 L95.84,300.17 L95.90,300.05 L95.96,299.93 L96.02,299.82 L96.08,299.70 L96.14,299.58 L96.20,299.47 L96.26,299.36 L96.32,299.24 L96.38,299.13 L96.44,299.02 L96.50,298.91 L96.56,298.80 L96.62,298.69 L96.68,298.58 L96.74,298.47 L96.80,298.37 L96.86,298.26 L96.92,298.16 L96.98,298.05 L97.05,297.95 L97.11,297.84 L97.17,297.74 L97.23,297.64 L97.29,297.54 L97.35,297.44 L97.41,297.34 L97.47,297.24 L97.53,297.14 L97.59,297.04 L97.65,296.95 L97.71,296.85 L97.77,296.75 L97.83,296.66 L97.89,296.56 L97.95,296.47 L98.01,296.38 L98.07,296.28 L98.13,296.19 L98.19,296.10 L98.25,296.01 L98.31,295.92 L98.37,295.82 L98.43,295.73 L98.49,295.65 L98.55,295.56 L98.61,295.47 L98.67,295.38 L98.73,295.29 L98.79,295.21 L98.85,295.12 L98.91,295.03 L98.97,294.95 L99.04,294.86 L99.10,294.78 L99.16,294.70 L99.22,294.61 L99.28,294.53 L99.34,294.45 L99.40,294.36 L99.46,294.28 L99.52,294.20 L99.58,294.12 L99.64,294.04 L99.70,293.96 L99.76,293.88 L99.82,293.80 L99.88,293.72 L99.94,293.64 L100.00,293.56 L101.24,292.04 L102.47,290.63 L103.71,289.32 L104.95,288.07 L106.19,286.89 L107.42,285.77 L108.66,284.71 L109.90,283.71 L111.14,282.75 L112.37,281.83 L113.61,280.95 L114.85,280.10 L116.09,279.28 L117.32,278.48 L118.56,277.70 L119.80,276.95 L121.04,276.21 L122.27,275.49 L123.51,274.79 L124.75,274.11 L125.99,273.44 L127.22,272.78 L128.46,272.14 L129.70,271.52 L130.94,270.90 L132.17,270.30 L133.41,269.71 L134.65,269.13 L135.89,268.56 L137.12,268.01 L138.36,267.46 L139.60,266.93 L140.84,266.40 L142.07,265.89 L143.31,265.38 L144.55,264.87 L145.79,264.38 L147.02,263.89 L148.26,263.40 L149.50,262.92 L150.74,262.45 L151.97,261.98 L153.21,261.52 L154.45,261.07 L155.69,260.62 L156.92,260.18 L158.16,259.74 L159.40,259.31 L160.64,258.88 L161.87,258.46 L163.11,258.04 L164.35,257.62 L165.59,257.21 L166.82,256.80 L168.06,256.40 L169.30,256.00 L170.54,255.60 L171.77,255.21 L173.01,254.82 L174.25,254.43 L175.48,254.04 L176.72,253.66 L177.96,253.27 L179.20,252.89 L180.43,252.51 L181.67,252.14 L182.91,251.76 L184.15,251.39 L185.38,251.02 L186.62,250.65 L187.86,250.28 L189.10,249.91 L190.33,249.55 L191.57,249.18 L192.81,248.81 L194.05,248.45 L195.28,248.09 L196.52,247.73 L197.76,247.36 L199.00,247.00 L200.23,246.65 L201.47,246.29 L202.71,245.93 L203.95,245.58 L205.18,245.22 L206.42,244.87 L207.66,244.52 L208.90,244.17 L210.13,243.83 L211.37,243.48 L212.61,243.14 L213.85,242.80 L215.08,242.46 L216.32,242.13 L217.56,241.79 L218.80,241.45 L220.03,241.12 L221.27,240.78 L222.51,240.45 L223.75,240.12 L224.98,239.79 L226.22,239.46 L227.46,239.13 L228.70,238.80 L229.93,238.47 L231.17,238.15 L232.41,237.82 L233.65,237.49 L234.88,237.17 L236.12,236.85 L237.36,236.53 L238.60,236.21 L239.83,235.89 L241.07,235.57 L242.31,235.25 L243.55,234.93 L244.78,234.62 L246.02,234.30 L247.26,233.98 L248.49,233.67 L249.73,233.36 L250.97,233.04 L252.21,232.73 L253.44,232.41 L254.68,232.10 L255.92,231.79 L257.16,231.48 L258.39,231.17 L259.63,230.85 L260.87,230.54 L262.11,230.23 L263.34,229.92 L264.58,229.61 L265.82,229.30 L267.06,228.99 L268.29,228.68 L269.53,228.37 L270.77,228.06 L272.01,227.75 L273.24,227.44 L274.48,227.13 L275.72,226.82 L276.96,226.51 L278.19,226.20 L279.43,225.89 L280.67,225.57 L281.91,225.26 L283.14,224.95 L284.38,224.64 L285.62,224.33 L286.86,224.02 L288.09,223.70 L289.33,223.39 L290.57,223.08 L291.81,222.76 L293.04,222.45 L294.28,222.13 L295.52,221.81 L296.76,221.50 L297.99,221.18 L299.23,220.86 L300.47,220.54 L301.71,220.22 L302.94,219.90 L304.18,219.58 L305.42,219.26 L306.66,218.94 L307.89,218.62 L309.13,218.29 L310.37,217.97 L311.61,217.64 L312.84,217.31 L314.08,216.99 L315.32,216.66 L316.56,216.33 L317.79,215.99 L319.03,215.66 L320.27,215.33 L321.51,214.99 L322.74,214.66 L323.98,214.32 L325.22,213.98 L326.45,213.64 L327.69,213.30 L328.93,212.96 L330.17,212.61 L331.40,212.27 L332.64,211.92 L333.88,211.57 L335.12,211.22 L336.35,210.87 L337.59,210.51 L338.83,210.16 L340.07,209.80 L341.30,209.44 L342.54,209.08 L343.78,208.72 L345.02,208.35 L346.25,207.99 L347.49,207.62 L348.73,207.25 L349.97,206.88 L351.20,206.50 L352.44,206.13 L353.68,205.75 L354.92,205.37 L356.15,204.98 L357.39,204.60 L358.63,204.21 L359.87,203.82 L361.10,203.43 L362.34,203.03 L363.58,202.64 L364.82,202.24 L366.05,201.83 L367.29,201.43 L368.53,201.02 L369.77,200.61 L371.00,200.20 L372.24,199.78 L373.48,199.37 L374.72,198.94 L375.95,198.52 L377.19,198.09 L378.43,197.66 L379.67,197.23 L380.90,196.79 L382.14,196.35 L383.38,195.91 L384.62,195.46 L385.85,195.01 L387.09,194.56 L388.33,194.10 L389.57,193.63 L390.80,193.16 L392.04,192.69 L393.28,192.22 L394.52,191.74 L395.75,191.25 L396.99,190.76 L398.23,190.26 L399.46,189.76 L400.70,189.26 L401.94,188.74 L403.18,188.23 L404.41,187.71 L405.65,187.18 L406.89,186.65 L408.13,186.11 L409.36,185.56 L410.60,185.01 L411.84,184.45 L413.08,183.89 L414.31,183.32 L415.55,182.75 L416.79,182.16 L418.03,181.58 L419.26,180.98 L420.50,180.38 L421.74,179.77 L422.98,179.15 L424.21,178.53 L425.45,177.90 L426.69,177.26 L427.93,176.61 L429.16,175.96 L430.40,175.29 L431.64,174.62 L432.88,173.94 L434.11,173.26 L435.35,172.56 L436.59,171.85 L437.83,171.14 L439.06,170.41 L440.30,169.68 L441.54,168.93 L442.78,168.17 L444.01,167.40 L445.25,166.62 L446.49,165.82 L447.73,165.01 L448.96,164.19 L450.20,163.35 L451.44,162.49 L452.68,161.62 L453.91,160.73 L455.15,159.83 L456.39,158.90 L457.63,157.96 L458.86,156.99 L460.10,156.00 L461.34,154.99 L462.58,153.95 L463.81,152.89 L465.05,151.80 L466.29,150.68 L467.53,149.53 L468.76,148.36 L470.00,147.14 L470.12,147.02 L470.25,146.90 L470.37,146.78 L470.49,146.65 L470.61,146.53 L470.74,146.41 L470.86,146.28 L470.98,146.16 L471.10,146.03 L471.23,145.91 L471.35,145.78 L471.47,145.66 L471.59,145.53 L471.72,145.41 L471.84,145.28 L471.96,145.15 L472.08,145.02 L472.21,144.90 L472.33,144.77 L472.45,144.64 L472.57,144.51 L472.70,144.38 L472.82,144.25 L472.94,144.12 L473.06,143.99 L473.19,143.86 L473.31,143.73 L473.43,143.59 L473.55,143.46 L473.68,143.33 L473.80,143.20 L473.92,143.06 L474.04,142.93 L474.17,142.79 L474.29,142.66 L474.41,142.52 L474.53,142.39 L474.66,142.25 L474.78,142.12 L474.90,141.98 L475.02,141.84 L475.15,141.70 L475.27,141.56 L475.39,141.43 L475.51,141.29 L475.64,141.15 L475.76,141.01 L475.88,140.86 L476.00,140.72 L476.13,140.58 L476.25,140.44 L476.37,140.29 L476.49,140.15 L476.62,140.00 L476.74,139.86 L476.86,139.71 L476.98,139.57 L477.11,139.42 L477.23,139.27 L477.35,139.13 L477.47,138.98 L477.60,138.83 L477.72,138.68 L477.84,138.53 L477.96,138.38 L478.09,138.23 L478.21,138.07 L478.33,137.92 L478.45,137.77 L478.58,137.61 L478.70,137.46 L478.82,137.31 L478.94,137.15 L479.07,136.99 L479.19,136.84 L479.31,136.68 L479.43,136.52 L479.56,136.36 L479.68,136.20 L479.80,136.04 L479.92,135.88 L480.05,135.72 L480.17,135.56 L480.29,135.40 L480.41,135.23 L480.54,135.07 L480.66,134.91 L480.78,134.74 L480.90,134.57 L481.03,134.41 L481.15,134.24 L481.27,134.07 L481.39,133.90 L481.52,133.73 L481.64,133.56 L481.76,133.39 L481.88,133.22 L482.01,133.05 L482.13,132.88 L482.25,132.70 L482.37,132.53 L482.50,132.36 L482.62,132.18 L482.74,132.00 L482.86,131.83 L482.99,131.65 L483.11,131.47 L483.23,131.29 L483.35,131.11 L483.48,130.93 L483.60,130.75 L483.72,130.56 L483.84,130.38 L483.97,130.20 L484.09,130.01 L484.21,129.83 L484.33,129.64 L484.46,129.45 L484.58,129.26 L484.70,129.07 L484.82,128.88 L484.95,128.69 L485.07,128.50 L485.19,128.31 L485.31,128.12 L485.44,127.92 L485.56,127.73 L485.68,127.53 L485.80,127.33 L485.93,127.14 L486.05,126.94 L486.17,126.74 L486.29,126.54 L486.42,126.33 L486.54,126.13 L486.66,125.93 L486.78,125.72 L486.91,125.52 L487.03,125.31 L487.15,125.10 L487.27,124.89 L487.40,124.68 L487.52,124.47 L487.64,124.26 L487.76,124.05 L487.89,123.83 L488.01,123.61 L488.13,123.40 L488.25,123.18 L488.38,122.96 L488.50,122.74 L488.62,122.51 L488.74,122.29 L488.87,122.07 L488.99,121.84 L489.11,121.61 L489.23,121.38 L489.36,121.15 L489.48,120.92 L489.60,120.69 L489.72,120.45 L489.85,120.22 L489.97,119.98 L490.09,119.74 L490.21,119.50 L490.34,119.26 L490.46,119.02 L490.58,118.77 L490.70,118.53 L490.83,118.28 L490.95,118.03 L491.07,117.78 L491.19,117.53 L491.32,117.28 L491.44,117.02 L491.56,116.76 L491.68,116.51 L491.81,116.25 L491.93,115.98 L492.05,115.72 L492.17,115.46 L492.30,115.19 L492.42,114.92 L492.54,114.65 L492.66,114.38 L492.79,114.11 L492.91,113.83 L493.03,113.55 L493.15,113.27 L493.28,112.99 L493.40,112.71 L493.52,112.43 L493.64,112.14 L493.77,111.85 L493.89,111.56 L494.01,111.27 L494.13,110.97 L494.26,110.68 L494.38,110.38 L494.50,110.07 L494.62,109.77 L494.75,109.47 L494.87,109.16 L494.99,108.85 L495.11,108.53 L495.24,108.22 L495.36,107.90 L495.48,107.58 L495.60,107.26 L495.73,106.93 L495.85,106.61 L495.97,106.28 L496.09,105.94 L496.22,105.61 L496.34,105.27 L496.46,104.93 L496.58,104.58 L496.71,104.23 L496.83,103.88 L496.95,103.52 L497.07,103.17 L497.20,102.80 L497.32,102.44 L497.44,102.07 L497.56,101.70 L497.69,101.32 L497.81,100.94 L497.93,100.56 L498.05,100.17 L498.18,99.78 L498.30,99.38 L498.42,98.98 L498.54,98.57 L498.67,98.16 L498.79,97.75 L498.91,97.33 L499.03,96.91 L499.16,96.48 L499.28,96.05 L499.40,95.61 L499.52,95.17 L499.65,94.72 L499.77,94.26 L499.89,93.80 L500.01,93.34 L500.14,92.87 L500.26,92.39 L500.38,91.91 L500.50,91.42 L500.63,90.92 L500.75,90.42 L500.87,89.91 L500.99,89.39 L501.12,88.87 L501.24,88.34 L501.36,87.80 L501.48,87.25 L501.61,86.69 L501.73,86.13 L501.85,85.56 L501.97,84.98 L502.10,84.39 L502.22,83.79 L502.34,83.17 L502.46,82.55 L502.59,81.92 L502.71,81.28 L502.83,80.63 L502.95,79.96 L503.08,79.29 L503.20,78.60 L503.32,77.89 L503.44,77.18 L503.57,76.45 L503.69,75.70 L503.81,74.94 L503.93,74.17 L504.06,73.37 L504.18,72.57 L504.30,71.74 L504.42,70.89 L504.55,70.03 L504.67,69.14 L504.79,68.23 L504.91,67.30 L505.04,66.34 L505.16,65.36 L505.28,64.36 L505.40,63.32 L505.53,62.26 L505.65,61.16 L505.77,60.03 L505.89,58.87 L506.02,57.67 L506.14,56.43 L506.26,55.14 L506.38,53.81 L506.51,52.43 L506.63,51.00 L506.68,50.06 L506.74,49.13 L506.80,48.19 L506.85,47.26 L506.91,46.32 L506.97,45.38 L507.03,44.45 L507.09,43.51 L507.15,42.58 L507.21,41.64 L507.28,40.71 L507.34,39.77 L507.40,38.83 L507.47,37.90 L507.53,36.96 L507.60,36.03 L507.66,35.09 L507.73,34.15 L507.80,33.22 L507.87,32.28 L507.94,31.35 L508.01,30.41 L508.08,29.47 L508.15,28.54 L508.22,27.60 L508.29,26.67 L508.37,25.73 L508.44,24.79 L508.52,23.86 L508.59,22.92 L508.67,21.99 L508.74,21.05 L508.82,20.12 L508.90,19.18 L508.98,18.24 L509.06,17.31 L509.14,16.37 L509.22,15.44 L509.30,14.50" stroke="#0000ff"/>
<path d="M88.00,326.76 L88.06,326.75 L88.12,326.74 L88.18,326.74 L88.24,326.73 L88.30,326.73 L88.36,326.72 L88.42,326.72 L88.48,326.71 L88.54,326.71 L88.60,326.71 L88.66,326.70 L88.72,326.62 L88.78,326.53 L88.84,326.44 L88.90,326.34 L88.96,326.24 L89.03,326.14 L89.09,326.04 L89.15,325.93 L89.21,325.82 L89.27,325.71 L89.33,325.59 L89.39,325.48 L89.45,325.36 L89.51,325.24 L89.57,325.11 L89.63,324.99 L89.69,324.86 L89.75,324.73 L89.81,324.60 L89.87,324.47 L89.93,324.34 L89.99,324.20 L90.05,324.06 L90.11,323.93 L90.17,323.79 L90.23,323.65 L90.29,323.50 L90.35,323.36 L90.41,323.22 L90.47,323.07 L90.53,322.92 L90.59,322.78 L90.65,322.63 L90.71,322.48 L90.77,322.33 L90.83,322.18 L90.89,322.03 L90.95,321.88 L91.02,321.72 L91.08,321.57 L91.14,321.42 L91.20,321.26 L91.26,321.11 L91.32,320.96 L91.38,320.80 L91.44,320.65 L91.50,320.49 L91.56,320.33 L91.62,320.18 L91.68,320.02 L91.74,319.87 L91.80,319.71 L91.86,319.55 L91.92,319.40 L91.98,319.24 L92.04,319.09 L92.10,318.93 L92.16,318.77 L92.22,318.62 L92.28,318.46 L92.34,318.31 L92.40,318.15 L92.46,318.00 L92.52,317.84 L92.58,317.69 L92.64,317.53 L92.70,317.38 L92.76,317.23 L92.82,317.07 L92.88,316.92 L92.94,316.77 L93.01,316.62 L93.07,316.47 L93.13,316.32 L93.19,316.16 L93.25,316.01 L93.31,315.87 L93.37,315.72 L93.43,315.57 L93.49,315.42 L93.55,315.27 L93.61,315.13 L93.67,314.98 L93.73,314.83 L93.79,314.69 L93.85,314.54 L93.91,314.40 L93.97,314.26 L94.03,314.12 L94.09,313.97 L94.15,313.83 L94.21,313.69 L94.27,313.55 L94.33,313.41 L94.39,313.27 L94.45,313.14 L94.51,313.00 L94.57,312.86 L94.63,312.73 L94.69,312.59 L94.75,312.46 L94.81,312.32 L94.87,312.19 L94.93,312.06 L94.99,311.93 L95.06,311.79 L95.12,311.66 L95.18,311.54 L95.24,311.41 L95.30,311.28 L95.36,311.15 L95.42,311.03 L95.48,310.90 L95.54,310.78 L95.60,310.66 L95.66,310.53 L95.72,310.41 L95.78,310.29 L95.84,310.17 L95.90,310.05 L95.96,309.93 L96.02,309.82 L96.08,309.70 L96.14,309.58 L96.20,309.47 L96.26,309.36 L96.32,309.24 L96.38,309.13 L96.44,309.02 L96.50,308.91 L96.56,308.80 L96.62,308.69 L96.68,308.58 L96.74,308.47 L96.80,308.37 L96.86,308.26 L96.92,308.16 L96.98,308.05 L97.05,307.95 L97.11,307.84 L97.17,307.74 L97.23,307.64 L97.29,307.54 L97.35,307.44 L97.41,307.34 L97.47,307.24 L97.53,307.14 L97.59,307.04 L97.65,306.95 L97.71,306.85 L97.77,306.75 L97.83,306.66 L97.89,306.56 L97.95,306.47 L98.01,306.38 L98.07,306.28 L98.13,306.19 L98.19,306.10 L98.25,306.01 L98.31,305.92 L98.37,305.82 L98.43,305.73 L98.49,305.65 L98.55,305.56 L98.61,305.47 L98.67,305.38 L98.73,305.29 L98.79,305.21 L98.85,305.12 L98.91,305.03 L98.97,304.95 L99.04,304.86 L99.10,304.78 L99.16,304.70 L99.22,304.61 L99.28,304.53 L99.34,304.45 L99.40,304.36 L99.46,304.28 L99.52,304.20 L99.58,304.12 L99.64,304.04 L99.70,303.96 L99.76,303.88 L99.82,303.80 L99.88,303.72 L99.94,303.64 L100.00,303.56 L101.24,302.04 L102.47,300.63 L103.71,299.32 L104.95,298.07 L106.19,296.89 L107.42,295.77 L108.66,294.71 L109.90,293.71 L111.14,292.75 L112.37,291.83 L113.61,290.95 L114.85,290.10 L116.09,289.28 L117.32,288.48 L118.56,287.70 L119.80,286.95 L121.04,286.21 L122.27,285.49 L123.51,284.79 L124.75,284.11 L125.99,283.44 L127.22,282.78 L128.46,282.14 L129.70,281.52 L130.94,280.90 L132.17,280.30 L133.41,279.71 L134.65,279.13 L135.89,278.56 L137.12,278.01 L138.36,277.46 L139.60,276.93 L140.84,276.40 L142.07,275.89 L143.31,275.38 L144.55,274.87 L145.79,274.38 L147.02,273.89 L148.26,273.40 L149.50,272.92 L150.74,272.45 L151.97,271.98 L153.21,271.52 L154.45,271.07 L155.69,270.62 L156.92,270.18 L158.16,269.74 L159.40,269.31 L160.64,268.88 L161.87,268.46 L163.11,268.04 L164.35,267.62 L165.59,267.21 L166.82,266.80 L168.06,266.40 L169.30,266.00 L170.54,265.60 L171.77,265.21 L173.01,264.82 L174.25,264.43 L175.48,264.04 L176.72,263.66 L177.96,263.27 L179.20,262.89 L180.43,262.51 L181.67,262.14 L182.91,261.76 L184.15,261.39 L185.38,261.02 L186.62,260.65 L187.86,260.28 L189.10,259.91 L190.33,259.55 L191.57,259.18 L192.81,258.81 L194.05,258.45 L195.28,258.09 L196.52,257.73 L197.76,257.36 L199.00,257.00 L200.23,256.65 L201.47,256.29 L202.71,255.93 L203.95,255.58 L205.18,255.22 L206.42,254.87 L207.66,254.52 L208.90,254.17 L210.13,253.83 L211.37,253.48 L212.61,253.14 L213.85,252.80 L215.08,252.46 L216.32,252.13 L217.56,251.79 L218.80,251.45 L220.03,251.12 L221.27,250.78 L222.51,250.45 L223.75,250.12 L224.98,249.79 L226.22,249.46 L227.46,249.13 L228.70,248.80 L229.93,248.47 L231.17,248.15 L232.41,247.82 L233.65,247.49 L234.88,247.17 L236.12,246.85 L237.36,246.53 L238.60,246.21 L239.83,245.89 L241.07,245.57 L242.31,245.25 L243.55,244.93 L244.78,244.62 L246.02,244.30 L247.26,243.98 L248.49,243.67 L249.73,243.36 L250.97,243.04 L252.21,242.73 L253.44,242.41 L254.68,242.10 L255.92,241.79 L257.16,241.48 L258.39,241.17 L259.63,240.85 L260.87,240.54 L262.11,240.23 L263.34,239.92 L264.58,239.61 L265.82,239.30 L267.06,238.99 L268.29,238.68 L269.53,238.37 L270.77,238.06 L272.01,237.75 L273.24,237.44 L274.48,237.13 L275.72,236.82 L276.96,236.51 L278.19,236.20 L279.43,235.89 L280.67,235.57 L281.91,235.26 L283.14,234.95 L284.38,234.64 L285.62,234.33 L286.86,234.02 L288.09,233.70 L289.33,233.39 L290.57,233.08 L291.81,232.76 L293.04,232.45 L294.28,232.13 L295.52,231.81 L296.76,231.50 L297.99,231.18 L299.23,230.86 L300.47,230.54 L301.71,230.22 L302.94,229.90 L304.18,229.58 L305.42,229.26 L306.66,228.94 L307.89,228.62 L309.13,228.29 L310.37,227.97 L311.61,227.64 L312.84,227.31 L314.08,226.99 L315.32,226.66 L316.56,226.33 L317.79,225.99 L319.03,225.66 L320.27,225.33 L321.51,224.99 L322.74,224.66 L323.98,224.32 L325.22,223.98 L326.45,223.64 L327.69,223.30 L328.93,222.96 L330.17,222.61 L331.40,222.27 L332.64,221.92 L333.88,221.57 L335.12,221.22 L336.35,220.87 L337.59,220.51 L338.83,220.16 L340.07,219.80 L341.30,219.44 L342.54,219.08 L343.78,218.72 L345.02,218.35 L346.25,217.99 L347.49,217.62 L348.73,217.25 L349.97,216.88 L351.20,216.50 L352.44,216.13 L353.68,215.75 L354.92,215.37 L356.15,214.98 L357.39,214.60 L358.63,214.21 L359.87,213.82 L361.10,213.43 L362.34,213.03 L363.58,212.64 L364.82,212.24 L366.05,211.83 L367.29,211.43 L368.53,211.02 L369.77,210.61 L371.00,210.20 L372.24,209.78 L373.48,209.37 L374.72,208.94 L375.95,208.52 L377.19,208.09 L378.43,207.66 L379.67,207.23 L380.90,206.79 L382.14,206.35 L383.38,205.91 L384.62,205.46 L385.85,205.01 L387.09,204.56 L388.33,204.10 L389.57,203.63 L390.80,203.16 L392.04,202.69 L393.28,202.22 L394.52,201.74 L395.75,201.25 L396.99,200.76 L398.23,200.26 L399.46,199.76 L400.70,199.26 L401.94,198.74 L403.18,198.23 L404.41,197.71 L405.65,197.18 L406.89,196.65 L408.13,196.11 L409.36,195.56 L410.60,195.01 L411.84,194.45 L413.08,193.89 L414.31,193.32 L415.55,192.75 L416.79,192.16 L418.03,191.58 L419.26,190.98 L420.50,190.38 L421.74,189.77 L422.98,189.15 L424.21,188.53 L425.45,187.90 L426.69,187.26 L427.93,186.61 L429.16,185.96 L430.40,185.29 L431.64,184.62 L432.88,183.94 L434.11,183.26 L435.35,182.56 L436.59,181.85 L437.83,181.14 L439.06,180.41 L440.30,179.68 L441.54,178.93 L442.78,178.17 L444.01,177.40 L445.25,176.62 L446.49,175.82 L447.73,175.01 L448.96,174.19 L450.20,173.35 L451.44,172.49 L452.68,171.62 L453.91,170.73 L455.15,169.83 L456.39,168.90 L457.63,167.96 L458.86,166.99 L460.10,166.00 L461.34,164.99 L462.58,163.95 L463.81,162.89 L465.05,161.80 L466.29,160.68 L467.53,159.53 L468.76,158.36 L470.00,157.14 L470.12,157.02 L470.25,156.90 L470.37,156.77 L470.50,156.64 L470.62,156.52 L470.75,156.39 L470.87,156.27 L471.00,156.14 L471.12,156.01 L471.25,155.88 L471.37,155.76 L471.50,155.63 L471.62,155.50 L471.75,155.37 L471.87,155.24 L472.00,155.11 L472.12,154.98 L472.25,154.85 L472.37,154.72 L472.50,154.59 L472.62,154.46 L472.75,154.32 L472.87,154.19 L473.00,154.06 L473.12,153.92 L473.25,153.79 L473.37,153.66 L473.50,153.52 L473.62,153.39 L473.75,153.25 L473.87,153.11 L474.00,152.98 L474.12,152.84 L474.25,152.70 L474.37,152.56 L474.50,152.43 L474.62,152.29 L474.75,152.15 L474.87,152.01 L475.00,151.87 L475.12,151.73 L475.25,151.59 L475.37,151.44 L475.50,151.30 L475.62,151.16 L475.75,151.02 L475.87,150.87 L476.00,150.73 L476.12,150.58 L476.25,150.44 L476.37,150.29 L476.50,150.14 L476.62,150.00 L476.75,149.85 L476.87,149.70 L477.00,149.55 L477.12,149.40 L477.25,149.25 L477.37,149.10 L477.50,148.95 L477.62,148.79 L477.75,148.64 L477.87,148.49 L478.00,148.33 L478.12,148.18 L478.25,148.02 L478.37,147.87 L478.50,147.71 L478.62,147.56 L478.75,147.40 L478.87,147.24 L479.00,147.08 L479.12,146.92 L479.25,146.76 L479.37,146.60 L479.50,146.44 L479.62,146.28 L479.75,146.11 L479.87,145.95 L480.00,145.78 L480.12,145.62 L480.25,145.45 L480.37,145.29 L480.50,145.12 L480.62,144.95 L480.75,144.79 L480.87,144.62 L481.00,144.45 L481.12,144.28 L481.25,144.11 L481.37,143.93 L481.50,143.76 L481.62,143.59 L481.75,143.41 L481.87,143.24 L482.00,143.06 L482.12,142.89 L482.25,142.71 L482.37,142.53 L482.50,142.35 L482.62,142.17 L482.75,141.99 L482.87,141.81 L483.00,141.63 L483.12,141.45 L483.25,141.27 L483.37,141.08 L483.50,140.90 L483.62,140.71 L483.75,140.53 L483.87,140.34 L484.00,140.15 L484.12,139.96 L484.25,139.77 L484.37,139.58 L484.50,139.39 L484.62,139.20 L484.75,139.00 L484.87,138.81 L485.00,138.62 L485.12,138.42 L485.25,138.22 L485.37,138.02 L485.50,137.83 L485.62,137.63 L485.75,137.43 L485.87,137.22 L486.00,137.02 L486.12,136.82 L486.25,136.61 L486.37,136.41 L486.50,136.20 L486.62,135.99 L486.75,135.79 L486.87,135.58 L487.00,135.37 L487.12,135.15 L487.25,134.94 L487.37,134.73 L487.49,134.51 L487.62,134.30 L487.74,134.08 L487.87,133.86 L487.99,133.64 L488.12,133.42 L488.24,133.19 L488.37,132.97 L488.49,132.74 L488.62,132.52 L488.74,132.29 L488.87,132.06 L488.99,131.83 L489.12,131.60 L489.24,131.36 L489.37,131.13 L489.49,130.89 L489.62,130.65 L489.74,130.41 L489.87,130.17 L489.99,129.93 L490.12,129.69 L490.24,129.44 L490.37,129.19 L490.49,128.95 L490.62,128.70 L490.74,128.44 L490.87,128.19 L490.99,127.94 L491.12,127.68 L491.24,127.42 L491.37,127.17 L491.49,126.90 L491.62,126.64 L491.74,126.38 L491.87,126.11 L491.99,125.84 L492.12,125.57 L492.24,125.30 L492.37,125.03 L492.49,124.76 L492.62,124.48 L492.74,124.20 L492.87,123.92 L492.99,123.64 L493.12,123.35 L493.24,123.07 L493.37,122.78 L493.49,122.49 L493.62,122.20 L493.74,121.90 L493.87,121.61 L493.99,121.31 L494.12,121.01 L494.24,120.71 L494.37,120.40 L494.49,120.09 L494.62,119.78 L494.74,119.47 L494.87,119.16 L494.99,118.84 L495.12,118.52 L495.24,118.20 L495.37,117.88 L495.49,117.55 L495.62,117.22 L495.74,116.89 L495.87,116.55 L495.99,116.22 L496.12,115.88 L496.24,115.53 L496.37,115.19 L496.49,114.84 L496.62,114.48 L496.74,114.13 L496.87,113.77 L496.99,113.40 L497.12,113.04 L497.24,112.67 L497.37,112.29 L497.49,111.91 L497.62,111.53 L497.74,111.15 L497.87,110.76 L497.99,110.36 L498.12,109.97 L498.24,109.56 L498.37,109.16 L498.49,108.75 L498.62,108.33 L498.74,107.91 L498.87,107.48 L498.99,107.05 L499.12,106.62 L499.24,106.18 L499.37,105.73 L499.49,105.28 L499.62,104.83 L499.74,104.36 L499.87,103.90 L499.99,103.42 L500.12,102.94 L500.24,102.46 L500.37,101.97 L500.49,101.47 L500.62,100.96 L500.74,100.45 L500.87,99.93 L500.99,99.40 L501.12,98.87 L501.24,98.33 L501.37,97.78 L501.49,97.22 L501.62,96.65 L501.74,96.07 L501.87,95.49 L501.99,94.89 L502.12,94.29 L502.24,93.68 L502.37,93.05 L502.49,92.42 L502.62,91.77 L502.74,91.11 L502.87,90.44 L502.99,89.76 L503.12,89.07 L503.24,88.36 L503.37,87.64 L503.49,86.90 L503.62,86.15 L503.74,85.39 L503.87,84.60 L503.99,83.80 L504.12,82.99 L504.24,82.15 L504.37,81.30 L504.49,80.43 L504.62,79.53 L504.74,78.61 L504.86,77.67 L504.99,76.71 L505.11,75.72 L505.24,74.70 L505.36,73.66 L505.49,72.58 L505.61,71.47 L505.74,70.33 L505.86,69.15 L505.99,67.93 L506.11,66.68 L506.24,65.37 L506.36,64.03 L506.49,62.63 L506.61,61.17 L506.74,59.66 L506.86,58.08 L506.99,56.43 L507.11,54.71 L507.24,52.90 L507.36,51.00 L507.40,50.06 L507.43,49.13 L507.47,48.19 L507.50,47.26 L507.54,46.32 L507.58,45.38 L507.62,44.45 L507.65,43.51 L507.69,42.58 L507.74,41.64 L507.78,40.71 L507.82,39.77 L507.86,38.83 L507.91,37.90 L507.95,36.96 L508.00,36.03 L508.05,35.09 L508.09,34.15 L508.14,33.22 L508.19,32.28 L508.24,31.35 L508.29,30.41 L508.34,29.47 L508.40,28.54 L508.45,27.60 L508.51,26.67 L508.56,25.73 L508.62,24.79 L508.68,23.86 L508.74,22.92 L508.79,21.99 L508.85,21.05 L508.92,20.12 L508.98,19.18 L509.04,18.24 L509.10,17.31 L509.17,16.37 L509.23,15.44 L509.30,14.50" stroke="#ff00ff"/>
<path d="M90.83,329.98 L90.89,329.83 L90.95,329.68 L91.02,329.52 L91.08,329.37 L91.14,329.22 L91.20,329.06 L91.26,328.91 L91.32,328.76 L91.38,328.60 L91.44,328.45 L91.50,328.29 L91.56,328.13 L91.62,327.98 L91.68,327.82 L91.74,327.67 L91.80,327.51 L91.86,327.35 L91.92,327.20 L91.98,327.04 L92.04,326.89 L92.10,326.73 L92.16,326.57 L92.22,326.42 L92.28,326.26 L92.34,326.11 L92.40,325.95 L92.46,325.80 L92.52,325.64 L92.58,325.49 L92.64,325.33 L92.70,325.18 L92.76,325.03 L92.82,324.87 L92.88,324.72 L92.94,324.57 L93.01,324.42 L93.07,324.27 L93.13,324.12 L93.19,323.96 L93.25,323.81 L93.31,323.67 L93.37,323.52 L93.43,323.37 L93.49,323.22 L93.55,323.07 L93.61,322.93 L93.67,322.78 L93.73,322.63 L93.79,322.49 L93.85,322.34 L93.91,322.20 L93.97,322.06 L94.03,321.92 L94.09,321.77 L94.15,321.63 L94.21,321.49 L94.27,321.35 L94.33,321.21 L94.39,321.07 L94.45,320.94 L94.51,320.80 L94.57,320.66 L94.63,320.53 L94.69,320.39 L94.75,320.26 L94.81,320.12 L94.87,319.99 L94.93,319.86 L94.99,319.73 L95.06,319.59 L95.12,319.46 L95.18,319.34 L95.24,319.21 L95.30,319.08 L95.36,318.95 L95.42,318.83 L95.48,318.70 L95.54,318.58 L95.60,318.46 L95.66,318.33 L95.72,318.21 L95.78,318.09 L95.84,317.97 L95.90,317.85 L95.96,317.73 L96.02,317.62 L96.08,317.50 L96.14,317.38 L96.20,317.27 L96.26,317.16 L96.32,317.04 L96.38,316.93 L96.44,316.82 L96.50,316.71 L96.56,316.60 L96.62,316.49 L96.68,316.38 L96.74,316.27 L96.80,316.17 L96.86,316.06 L96.92,315.96 L96.98,315.85 L97.05,315.75 L97.11,315.64 L97.17,315.54 L97.23,315.44 L97.29,315.34 L97.35,315.24 L97.41,315.14 L97.47,315.04 L97.53,314.94 L97.59,314.84 L97.65,314.75 L97.71,314.65 L97.77,314.55 L97.83,314.46 L97.89,314.36 L97.95,314.27 L98.01,314.18 L98.07,314.08 L98.13,313.99 L98.19,313.90 L98.25,313.81 L98.31,313.72 L98.37,313.62 L98.43,313.53 L98.49,313.45 L98.55,313.36 L98.61,313.27 L98.67,313.18 L98.73,313.09 L98.79,313.01 L98.85,312.92 L98.91,312.83 L98.97,312.75 L99.04,312.66 L99.10,312.58 L99.16,312.50 L99.22,312.41 L99.28,312.33 L99.34,312.25 L99.40,312.16 L99.46,312.08 L99.52,312.00 L99.58,311.92 L99.64,311.84 L99.70,311.76 L99.76,311.68 L99.82,311.60 L99.88,311.52 L99.94,311.44 L100.00,311.36 L101.24,309.84 L102.47,308.43 L103.71,307.12 L104.95,305.87 L106.19,304.69 L107.42,303.57 L108.66,302.51 L109.90,301.51 L111.14,300.55 L112.37,299.63 L113.61,298.75 L114.85,297.90 L116.09,297.08 L117.32,296.28 L118.56,295.50 L119.80,294.75 L121.04,294.01 L122.27,293.29 L123.51,292.59 L124.75,291.91 L125.99,291.24 L127.22,290.58 L128.46,289.94 L129.70,289.32 L130.94,288.70 L132.17,288.10 L133.41,287.51 L134.65,286.93 L135.89,286.36 L137.12,285.81 L138.36,285.26 L139.60,284.73 L140.84,284.20 L142.07,283.69 L143.31,283.18 L144.55,282.67 L145.79,282.18 L147.02,281.69 L148.26,281.20 L149.50,280.72 L150.74,280.25 L151.97,279.78 L153.21,279.32 L154.45,278.87 L155.69,278.42 L156.92,277.98 L158.16,277.54 L159.40,277.11 L160.64,276.68 L161.87,276.26 L163.11,275.84 L164.35,275.42 L165.59,275.01 L166.82,274.60 L168.06,274.20 L169.30,273.80 L170.54,273.40 L171.77,273.01 L173.01,272.62 L174.25,272.23 L175.48,271.84 L176.72,271.46 L177.96,271.07 L179.20,270.69 L180.43,270.31 L181.67,269.94 L182.91,269.56 L184.15,269.19 L185.38,268.82 L186.62,268.45 L187.86,268.08 L189.10,267.71 L190.33,267.35 L191.57,266.98 L192.81,266.61 L194.05,266.25 L195.28,265.89 L196.52,265.53 L197.76,265.16 L199.00,264.80 L200.23,264.45 L201.47,264.09 L202.71,263.73 L203.95,263.38 L205.18,263.02 L206.42,262.67 L207.66,262.32 L208.90,261.97 L210.13,261.63 L211.37,261.28 L212.61,260.94 L213.85,260.60 L215.08,260.26 L216.32,259.93 L217.56,259.59 L218.80,259.25 L220.03,258.92 L221.27,258.58 L222.51,258.25 L223.75,257.92 L224.98,257.59 L226.22,257.26 L227.46,256.93 L228.70,256.60 L229.93,256.27 L231.17,255.95 L232.41,255.62 L233.65,255.29 L234.88,254.97 L236.12,254.65 L237.36,254.33 L238.60,254.01 L239.83,253.69 L241.07,253.37 L242.31,253.05 L243.55,252.73 L244.78,252.42 L246.02,252.10 L247.26,251.78 L248.49,251.47 L249.73,251.16 L250.97,250.84 L252.21,250.53 L253.44,250.21 L254.68,249.90 L255.92,249.59 L257.16,249.28 L258.39,248.97 L259.63,248.65 L260.87,248.34 L262.11,248.03 L263.34,247.72 L264.58,247.41 L265.82,247.10 L267.06,246.79 L268.29,246.48 L269.53,246.17 L270.77,245.86 L272.01,245.55 L273.24,245.24 L274.48,244.93 L275.72,244.62 L276.96,244.31 L278.19,244.00 L279.43,243.69 L280.67,243.37 L281.91,243.06 L283.14,242.75 L284.38,242.44 L285.62,242.13 L286.86,241.82 L288.09,241.50 L289.33,241.19 L290.57,240.88 L291.81,240.56 L293.04,240.25 L294.28,239.93 L295.52,239.61 L296.76,239.30 L297.99,238.98 L299.23,238.66 L300.47,238.34 L301.71,238.02 L302.94,237.70 L304.18,237.38 L305.42,237.06 L306.66,236.74 L307.89,236.42 L309.13,236.09 L310.37,235.77 L311.61,235.44 L312.84,235.11 L314.08,234.79 L315.32,234.46 L316.56,234.13 L317.79,233.79 L319.03,233.46 L320.27,233.13 L321.51,232.79 L322.74,232.46 L323.98,232.12 L325.22,231.78 L326.45,231.44 L327.69,231.10 L328.93,230.76 L330.17,230.41 L331.40,230.07 L332.64,229.72 L333.88,229.37 L335.12,229.02 L336.35,228.67 L337.59,228.31 L338.83,227.96 L340.07,227.60 L341.30,227.24 L342.54,226.88 L343.78,226.52 L345.02,226.15 L346.25,225.79 L347.49,225.42 L348.73,225.05 L349.97,224.68 L351.20,224.30 L352.44,223.93 L353.68,223.55 L354.92,223.17 L356.15,222.78 L357.39,222.40 L358.63,222.01 L359.87,221.62 L361.10,221.23 L362.34,220.83 L363.58,220.44 L364.82,220.04 L366.05,219.63 L367.29,219.23 L368.53,218.82 L369.77,218.41 L371.00,218.00 L372.24,217.58 L373.48,217.17 L374.72,216.74 L375.95,216.32 L377.19,215.89 L378.43,215.46 L379.67,215.03 L380.90,214.59 L382.14,214.15 L383.38,213.71 L384.62,213.26 L385.85,212.81 L387.09,212.36 L388.33,211.90 L389.57,211.43 L390.80,210.96 L392.04,210.49 L393.28,210.02 L394.52,209.54 L395.75,209.05 L396.99,208.56 L398.23,208.06 L399.46,207.56 L400.70,207.06 L401.94,206.54 L403.18,206.03 L404.41,205.51 L405.65,204.98 L406.89,204.45 L408.13,203.91 L409.36,203.36 L410.60,202.81 L411.84,202.25 L413.08,201.69 L414.31,201.12 L415.55,200.55 L416.79,199.96 L418.03,199.38 L419.26,198.78 L420.50,198.18 L421.74,197.57 L422.98,196.95 L424.21,196.33 L425.45,195.70 L426.69,195.06 L427.93,194.41 L429.16,193.76 L430.40,193.09 L431.64,192.42 L432.88,191.74 L434.11,191.06 L435.35,190.36 L436.59,189.65 L437.83,188.94 L439.06,188.21 L440.30,187.48 L441.54,186.73 L442.78,185.97 L444.01,185.20 L445.25,184.42 L446.49,183.62 L447.73,182.81 L448.96,181.99 L450.20,181.15 L451.44,180.29 L452.68,179.42 L453.91,178.53 L455.15,177.63 L456.39,176.70 L457.63,175.76 L458.86,174.79 L460.10,173.80 L461.34,172.79 L462.58,171.75 L463.81,170.69 L465.05,169.60 L466.29,168.48 L467.53,167.33 L468.76,166.16 L470.00,164.94 L470.13,164.82 L470.25,164.69 L470.38,164.57 L470.51,164.44 L470.63,164.31 L470.76,164.18 L470.89,164.06 L471.01,163.93 L471.14,163.80 L471.26,163.67 L471.39,163.54 L471.52,163.41 L471.64,163.28 L471.77,163.15 L471.90,163.02 L472.02,162.89 L472.15,162.75 L472.28,162.62 L472.40,162.49 L472.53,162.36 L472.66,162.22 L472.78,162.09 L472.91,161.95 L473.04,161.82 L473.16,161.68 L473.29,161.55 L473.41,161.41 L473.54,161.27 L473.67,161.14 L473.79,161.00 L473.92,160.86 L474.05,160.72 L474.17,160.59 L474.30,160.45 L474.43,160.31 L474.55,160.17 L474.68,160.03 L474.81,159.88 L474.93,159.74 L475.06,159.60 L475.19,159.46 L475.31,159.31 L475.44,159.17 L475.56,159.03 L475.69,158.88 L475.82,158.74 L475.94,158.59 L476.07,158.44 L476.20,158.30 L476.32,158.15 L476.45,158.00 L476.58,157.85 L476.70,157.70 L476.83,157.55 L476.96,157.40 L477.08,157.25 L477.21,157.10 L477.34,156.94 L477.46,156.79 L477.59,156.64 L477.71,156.48 L477.84,156.33 L477.97,156.17 L478.09,156.02 L478.22,155.86 L478.35,155.70 L478.47,155.54 L478.60,155.38 L478.73,155.22 L478.85,155.06 L478.98,154.90 L479.11,154.74 L479.23,154.58 L479.36,154.42 L479.49,154.25 L479.61,154.09 L479.74,153.92 L479.86,153.76 L479.99,153.59 L480.12,153.43 L480.24,153.26 L480.37,153.09 L480.50,152.92 L480.62,152.75 L480.75,152.58 L480.88,152.41 L481.00,152.24 L481.13,152.07 L481.26,151.89 L481.38,151.72 L481.51,151.54 L481.64,151.37 L481.76,151.19 L481.89,151.02 L482.01,150.84 L482.14,150.66 L482.27,150.48 L482.39,150.30 L482.52,150.12 L482.65,149.94 L482.77,149.76 L482.90,149.57 L483.03,149.39 L483.15,149.20 L483.28,149.02 L483.41,148.83 L483.53,148.64 L483.66,148.46 L483.79,148.27 L483.91,148.08 L484.04,147.89 L484.16,147.70 L484.29,147.50 L484.42,147.31 L484.54,147.12 L484.67,146.92 L484.80,146.72 L484.92,146.53 L485.05,146.33 L485.18,146.13 L485.30,145.93 L485.43,145.73 L485.56,145.53 L485.68,145.33 L485.81,145.12 L485.94,144.92 L486.06,144.71 L486.19,144.51 L486.31,144.30 L486.44,144.09 L486.57,143.88 L486.69,143.67 L486.82,143.46 L486.95,143.25 L487.07,143.03 L487.20,142.82 L487.33,142.60 L487.45,142.38 L487.58,142.17 L487.71,141.94 L487.83,141.72 L487.96,141.50 L488.09,141.28 L488.21,141.05 L488.34,140.82 L488.47,140.60 L488.59,140.37 L488.72,140.14 L488.84,139.90 L488.97,139.67 L489.10,139.44 L489.22,139.20 L489.35,138.96 L489.48,138.72 L489.60,138.48 L489.73,138.24 L489.86,138.00 L489.98,137.75 L490.11,137.51 L490.24,137.26 L490.36,137.01 L490.49,136.76 L490.62,136.50 L490.74,136.25 L490.87,135.99 L490.99,135.74 L491.12,135.48 L491.25,135.22 L491.37,134.95 L491.50,134.69 L491.63,134.42 L491.75,134.16 L491.88,133.89 L492.01,133.62 L492.13,133.34 L492.26,133.07 L492.39,132.79 L492.51,132.52 L492.64,132.23 L492.77,131.95 L492.89,131.67 L493.02,131.38 L493.14,131.10 L493.27,130.81 L493.40,130.51 L493.52,130.22 L493.65,129.92 L493.78,129.62 L493.90,129.32 L494.03,129.02 L494.16,128.72 L494.28,128.41 L494.41,128.10 L494.54,127.79 L494.66,127.47 L494.79,127.16 L494.92,126.84 L495.04,126.52 L495.17,126.19 L495.29,125.87 L495.42,125.54 L495.55,125.21 L495.67,124.87 L495.80,124.53 L495.93,124.19 L496.05,123.85 L496.18,123.51 L496.31,123.16 L496.43,122.80 L496.56,122.45 L496.69,122.09 L496.81,121.73 L496.94,121.36 L497.07,120.99 L497.19,120.62 L497.32,120.24 L497.44,119.86 L497.57,119.47 L497.70,119.08 L497.82,118.69 L497.95,118.29 L498.08,117.89 L498.20,117.49 L498.33,117.08 L498.46,116.66 L498.58,116.24 L498.71,115.82 L498.84,115.39 L498.96,114.96 L499.09,114.52 L499.22,114.07 L499.34,113.62 L499.47,113.17 L499.59,112.71 L499.72,112.24 L499.85,111.77 L499.97,111.29 L500.10,110.81 L500.23,110.31 L500.35,109.82 L500.48,109.31 L500.61,108.80 L500.73,108.28 L500.86,107.76 L500.99,107.23 L501.11,106.68 L501.24,106.14 L501.37,105.58 L501.49,105.01 L501.62,104.44 L501.74,103.86 L501.87,103.26 L502.00,102.66 L502.12,102.05 L502.25,101.43 L502.38,100.79 L502.50,100.15 L502.63,99.50 L502.76,98.83 L502.88,98.15 L503.01,97.46 L503.14,96.75 L503.26,96.03 L503.39,95.30 L503.52,94.55 L503.64,93.79 L503.77,93.01 L503.89,92.22 L504.02,91.40 L504.15,90.57 L504.27,89.72 L504.40,88.85 L504.53,87.96 L504.65,87.05 L504.78,86.12 L504.91,85.16 L505.03,84.17 L505.16,83.16 L505.29,82.12 L505.41,81.05 L505.54,79.95 L505.67,78.81 L505.79,77.64 L505.92,76.43 L506.04,75.19 L506.17,73.89 L506.30,72.55 L506.42,71.16 L506.55,69.72 L506.68,68.22 L506.80,66.66 L506.93,65.02 L507.06,63.32 L507.18,61.53 L507.31,59.65 L507.44,57.67 L507.56,55.57 L507.69,53.36 L507.82,51.00 L507.85,50.06 L507.88,49.13 L507.91,48.19 L507.94,47.26 L507.97,46.32 L508.01,45.38 L508.04,44.45 L508.08,43.51 L508.11,42.58 L508.15,41.64 L508.18,40.71 L508.22,39.77 L508.25,38.83 L508.29,37.90 L508.33,36.96 L508.37,36.03 L508.41,35.09 L508.44,34.15 L508.48,33.22 L508.52,32.28 L508.56,31.35 L508.60,30.41 L508.64,29.47 L508.68,28.54 L508.72,27.60 L508.77,26.67 L508.81,25.73 L508.85,24.79 L508.90,23.86 L508.95,22.92 L509.00,21.99 L509.05,21.05 L509.11,20.12 L509.17,19.18 L509.23,18.24 L509.30,17.31 L509.36,16.37 L509.43,15.44 L509.50,14.50" stroke="#00ffff"/>
</g>
<path d="M137.40,322H145.20" stroke="#000" stroke-width="1.05" fill="none"/>
<text transform="translate(146.0,326.2) scale(1.02,1.0)" font-size="13.3" text-anchor="start" stroke="#000" stroke-width="0.35" font-family="Liberation Sans, sans-serif" >30</text>
<path d="M257.65,322H265.45" stroke="#000" stroke-width="1.05" fill="none"/>
<text transform="translate(266.25,326.2) scale(1.02,1.0)" font-size="13.3" text-anchor="start" stroke="#000" stroke-width="0.35" font-family="Liberation Sans, sans-serif" >20</text>
<path d="M377.90,322H385.70" stroke="#000" stroke-width="1.05" fill="none"/>
<text transform="translate(386.5,326.2) scale(1.02,1.0)" font-size="13.3" text-anchor="start" stroke="#000" stroke-width="0.35" font-family="Liberation Sans, sans-serif" >10</text>
<text transform="translate(509.55,326.2) scale(1.05,1)" font-size="13.3" text-anchor="middle" stroke="#000" stroke-width="0.35" font-family="Liberation Sans, sans-serif" >0</text>
<text transform="translate(56.7,13.6) scale(0.96,1.0)" font-size="13.4" text-anchor="start" stroke="#000" stroke-width="0.35" font-family="Liberation Sans, sans-serif" >10</text>
<text transform="translate(71.6,9.0) scale(0.9,1.0)" font-size="12.3" text-anchor="start" stroke="#000" stroke-width="0.35" font-family="Liberation Sans, sans-serif" >1</text>
<text transform="translate(56.7,99.3) scale(0.96,1.0)" font-size="13.4" text-anchor="start" stroke="#000" stroke-width="0.35" font-family="Liberation Sans, sans-serif" >10</text>
<text transform="translate(71.3,94.8) scale(1.03,1.0)" font-size="12.3" text-anchor="start" stroke="#000" stroke-width="0.35" font-family="Liberation Sans, sans-serif" >0</text>
<text transform="translate(46.65,185.0) scale(0.96,1.0)" font-size="13.4" text-anchor="start" stroke="#000" stroke-width="0.35" font-family="Liberation Sans, sans-serif" >10</text>
<path d="M62.2,176.40H70.1" stroke="#000" stroke-width="1.05" fill="none"/>
<text transform="translate(71.7,180.55) scale(0.9,1.0)" font-size="12.3" text-anchor="start" stroke="#000" stroke-width="0.35" font-family="Liberation Sans, sans-serif" >1</text>
<text transform="translate(46.65,270.7) scale(0.96,1.0)" font-size="13.4" text-anchor="start" stroke="#000" stroke-width="0.35" font-family="Liberation Sans, sans-serif" >10</text>
<path d="M62.2,262.10H70.1" stroke="#000" stroke-width="1.05" fill="none"/>
<text transform="translate(71.1,266.0) scale(1.12,1.0)" font-size="11.3" text-anchor="start" stroke="#000" stroke-width="0.35" font-family="Liberation Sans, sans-serif" >2</text>
<text transform="translate(130.1,60.7) scale(0.9,1.0)" font-size="20.5" text-anchor="start" stroke="#000" stroke-width="0.1" font-family="Liberation Sans, sans-serif" >(</text>
<text transform="translate(137.7,60.7) scale(1.115,1.0)" font-size="17.6" text-anchor="start" stroke="#000" stroke-width="0.1" font-family="Liberation Sans, sans-serif" >a</text>
<text transform="translate(150.1,60.7) scale(0.9,1.0)" font-size="20.5" text-anchor="start" stroke="#000" stroke-width="0.1" font-family="Liberation Sans, sans-serif" >)</text>
<text transform="translate(166.0,60.7) scale(0.95,1)" font-size="18.5" text-anchor="start" stroke="#000" stroke-width="0.1" font-family="Liberation Sans, sans-serif" font-style="italic">δ</text>
<text transform="translate(176.4,64.9) scale(1.12,1.0)" font-size="12.8" text-anchor="start" stroke="#000" stroke-width="0.1" font-family="Liberation Sans, sans-serif" >0</text>
<path d="M194.7,53.2H206.5M194.7,57.2H206.5" stroke="#000" stroke-width="1.1" fill="none"/>
<text transform="translate(216.9,60.7) scale(1.117,1.0)" font-size="17.9" text-anchor="start" stroke="#000" stroke-width="0.1" font-family="Liberation Sans, sans-serif" >0</text>
<text transform="translate(289.6,348.6) scale(0.86,1)" font-size="18.9" text-anchor="start" stroke="#000" stroke-width="0.2" font-family="Liberation Sans, sans-serif" font-style="italic">δ</text>
<text transform="translate(299.7,352.8) scale(1.05,1)" font-size="11.5" text-anchor="start" stroke="#000" stroke-width="0.1" font-family="Liberation Sans, sans-serif" font-style="italic" font-weight="bold">π</text>
<g transform="translate(15.65,185) rotate(-90)"><text transform="translate(-0.57,0) scale(1.155,1)" font-size="17.8" text-anchor="start" stroke="#000" stroke-width="0.25" font-family="Liberation Serif, serif" >g</text><text transform="translate(11.2,4.15) scale(1.24,1)" font-size="13" text-anchor="start" stroke="#000" stroke-width="0.25" font-family="Liberation Serif, serif" >n</text><path d="M20.5,3.05L31.1,-14.75" stroke="#000" stroke-width="1" fill="none"/><text transform="translate(31.7,0) scale(1.155,1)" font-size="17.8" text-anchor="start" stroke="#000" stroke-width="0.25" font-family="Liberation Serif, serif" >g</text><text transform="translate(43.4,4.15) scale(1.02,1)" font-size="14.0" text-anchor="start" stroke="#000" stroke-width="0.25" font-family="Liberation Serif, serif" >0</text></g>
</svg>
</body></html>
